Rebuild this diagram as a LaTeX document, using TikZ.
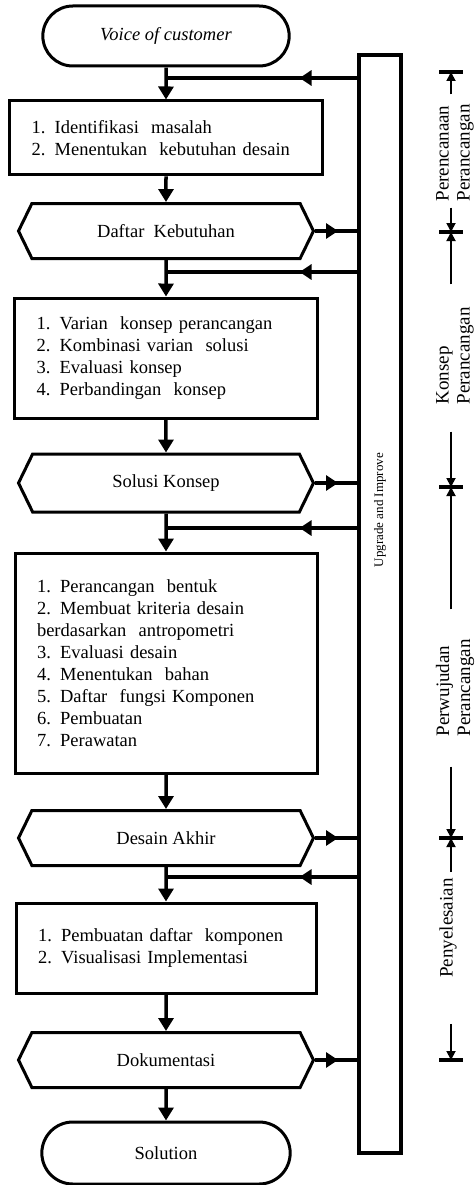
\documentclass[tikz,border=0pt]{standalone}
\usepackage{fontspec}
\setmainfont{Liberation Serif}
\usetikzlibrary{arrows.meta,shapes.misc,shapes.symbols,decorations.markings}

\tikzset{
    flowtext/.style={font=\fontsize{18.5}{22}\selectfont},
    term/.style={draw, line width=3pt, rounded rectangle, minimum height=60pt, flowtext},
    procbox/.style={draw, line width=3pt, inner xsep=22pt, align=left, flowtext},
    outhex/.style={draw, line width=3pt, signal, signal to=east and west, signal pointer angle=128,
        minimum width=295pt, minimum height=55pt, flowtext},
    down/.style={line width=3.5pt, -{Triangle[width=15pt,length=13pt]}},
    tobar/.style={line width=3.5pt, postaction={decorate}, decoration={markings,
        mark=at position 0.55 with {\arrow{Triangle[width=15pt,length=12pt]}}}},
    fbarrow/.style={line width=3.5pt, postaction={decorate}, decoration={markings,
        mark=at position 0.3 with {\arrow{Triangle[width=15pt,length=12pt]}}}},
    phase/.style={rotate=90, align=left, inner sep=0pt, font=\fontsize{19}{21}\selectfont},
    dimline/.style={line width=1.8pt, -{Triangle[width=9pt,length=9pt]}},
    tickbar/.style={line width=3.5pt}
}

\begin{document}
\begin{tikzpicture}[x=1pt,y=-1pt]
    \useasboundingbox (0,0) rectangle (476,1185);

    % flow column
    \node[term, minimum width=253pt] (voice) at (166,36) {\textit{Voice of customer}};
    \node[procbox, text width=269pt, minimum height=74pt] (box1) at (166,138)
        {1. Identifikasi \ masalah\\2. Menentukan \ kebutuhan desain};
    \node[outhex] (hex1) at (166,231) {Daftar \ Kebutuhan};
    \node[procbox, text width=259pt, minimum height=120pt] (box2) at (166,358)
        {1. Varian \ konsep perancangan\\2. Kombinasi varian \ solusi\\3. Evaluasi konsep\\4. Perbandingan \ konsep};
    \node[outhex, minimum height=58pt] (hex2) at (166,483) {Solusi Konsep};
    \node[procbox, text width=258pt, minimum height=220pt] (box3) at (166,663)
        {1. Perancangan \ bentuk\\2. Membuat kriteria desain\\berdasarkan \ antropometri\\3. Evaluasi desain\\4. Menentukan \ bahan\\5. Daftar \ fungsi Komponen\\6. Pembuatan\\7. Perawatan};
    \node[outhex] (hex3) at (166,838) {Desain Akhir};
    \node[procbox, text width=256pt, minimum height=90pt] (box4) at (166,948)
        {1. Pembuatan daftar \ komponen\\2. Visualisasi Implementasi};
    \node[outhex] (hex4) at (166,1060) {Dokumentasi};
    \node[term, minimum width=255pt, minimum height=62pt] (sol) at (166,1153) {Solution};

    % feedback bar
    \node[draw, line width=4.5pt, minimum width=42pt, minimum height=1098pt] (bar) at (380,604) {};
    \node[rotate=90, font=\fontsize{13}{15}\selectfont] (upg) at (380,510) {Upgrade and Improve};

    % junctions of the feedback lines
    \coordinate (fb1) at (166,78);
    \coordinate (fb2) at (166,272);
    \coordinate (fb3) at (166,528);
    \coordinate (fb4) at (166,877);

    % connections
    \draw[down] (voice) -- (box1);
    \draw[down] (box1) -- (hex1);
    \draw[down] (hex1) -- (box2);
    \draw[down] (box2) -- (hex2);
    \draw[down] (hex2) -- (box3);
    \draw[down] (box3) -- (hex3);
    \draw[down] (hex3) -- (box4);
    \draw[down] (box4) -- (hex4);
    \draw[down] (hex4) -- (sol);

    \foreach \h in {hex1,hex2,hex3,hex4}
        \draw[tobar] (\h.east) -- (\h.east -| bar.west);
    \foreach \f in {fb1,fb2,fb3,fb4}
        \draw[fbarrow] (\f -| bar.west) -- (\f);

    % phases
    \coordinate (t0) at (451,72);
    \coordinate (t1) at (451,232);
    \coordinate (t2) at (451,487);
    \coordinate (t3) at (451,838);
    \coordinate (t4) at (451,1060);
    \foreach \t in {t0,t1,t2,t3,t4}
        \draw[tickbar] ([xshift=-12pt]\t) -- ([xshift=12pt]\t);

    \node[phase] (ph1) at (455,153) {Perencanaan\\Perancangan};
    \node[phase] (ph2) at (455,356) {Konsep\\Perancangan};
    \node[phase] (ph3) at (455,688) {Perwujudan\\Perancangan};
    \node[phase] (ph4) at (448,928) {Penyelesaian};

    \draw[dimline, shorten <=10pt] (t0 |- ph1.east) -- (t0);
    \draw[dimline, shorten <=6pt] (t1 |- ph1.west) -- (t1);
    \draw[dimline, shorten <=23pt] (t1 |- ph2.east) -- (t1);
    \draw[dimline, shorten <=27pt] (t2 |- ph2.west) -- (t2);
    \draw[dimline, shorten <=30pt] (t2 |- ph3.east) -- (t2);
    \draw[dimline, shorten <=30pt] (t3 |- ph3.west) -- (t3);
    \draw[dimline, shorten <=6pt] (t3 |- ph4.east) -- (t3);
    \draw[dimline, shorten <=46pt] (t4 |- ph4.west) -- (t4);

\end{tikzpicture}
\end{document}
